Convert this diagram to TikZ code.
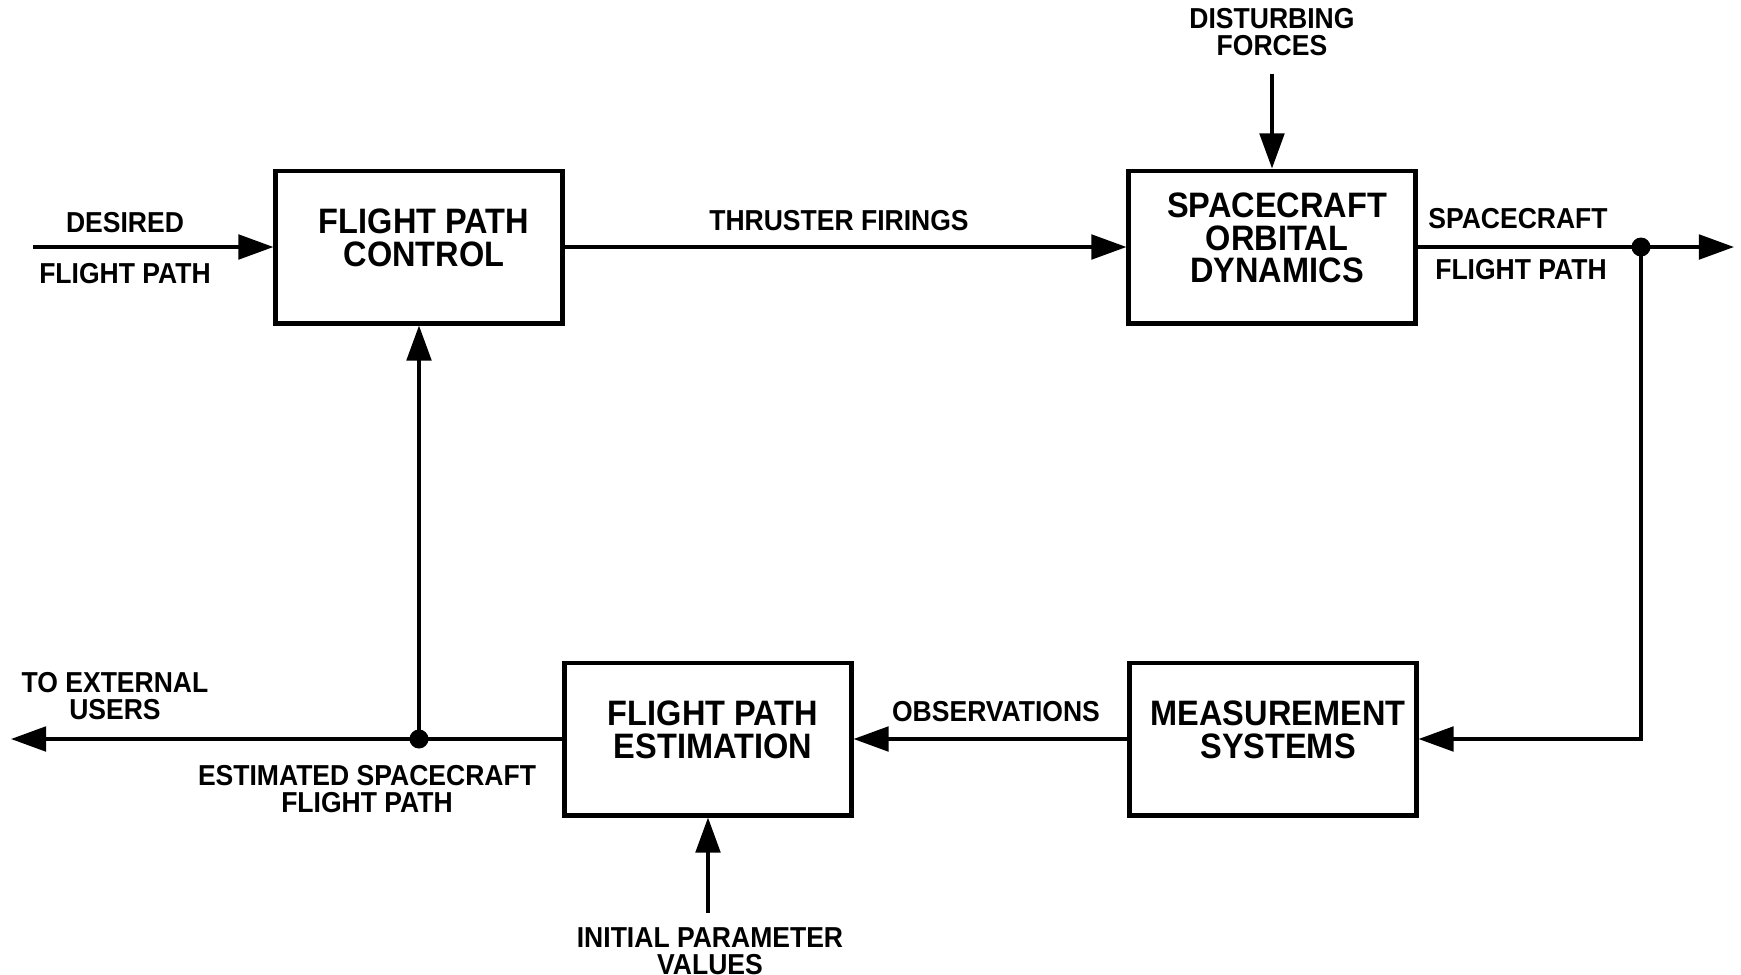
\documentclass[tikz,border=0pt]{standalone}
\usepackage{fontspec}
\newfontfamily\diagfont[FakeStretch=0.92]{Liberation Sans}
\usetikzlibrary{arrows.meta}
\tikzset{>={Triangle[length=10pt,width=7pt]}}
\tikzset{
  block/.style={draw, line width=1.4pt, minimum width=2.86cm, minimum height=1.52cm, inner sep=0pt},
  blocktext/.style={align=center, xshift=0.05cm, yshift=0.09cm, font=\diagfont\bfseries\fontsize{10.05}{9.2}\selectfont},
  sig/.style={align=center, inner sep=0pt, font=\diagfont\bfseries\fontsize{8.2}{7.6}\selectfont},
  line/.style={line width=1pt},
  dot/.style={circle, fill, inner sep=0pt, minimum size=0.19cm},
}

\begin{document}
\begin{tikzpicture}[x=0.01cm, y=-0.01cm]
    \useasboundingbox (0,0) rectangle (1741,975);

    % blocks
    \node[block, label={[blocktext]center:FLIGHT PATH\\CONTROL}] (fpc) at (419,247) {};
    \node[block, label={[blocktext]center:SPACECRAFT\\ORBITAL\\DYNAMICS}] (sod) at (1272,247) {};
    \node[block, label={[blocktext]center:FLIGHT PATH\\ESTIMATION}] (fpe) at (708,739) {};
    \node[block, label={[blocktext]center:MEASUREMENT\\SYSTEMS}] (ms) at (1273,739) {};

    % branch points and loose ends
    \coordinate (din) at (33,247);
    \coordinate (out) at (1734,247);
    \node[dot] (split) at (1641,247) {};
    \node[dot] (tap) at (419,739) {};
    \coordinate (ext) at (11,739);
    \coordinate (dist) at (1272,74);
    \coordinate (init) at (708,913);

    \draw[line,->] (din) -- (fpc);
    \draw[line,->] (fpc) -- (sod);
    \draw[line,->] (sod) -- (out);
    \draw[line,->] (split.center) |- (ms);
    \draw[line,->] (ms) -- (fpe);
    \draw[line,->] (fpe) -- (ext);
    \draw[line,->] (tap.center) -- (fpc);
    \draw[line,->] (dist) -- (sod);
    \draw[line,->] (init) -- (fpe);

    % signal names
    \node[sig] (desired) at (125,223) {DESIRED};
    \node[sig] (desiredfp) at (125,274) {FLIGHT PATH};
    \node[sig] (thrust) at (839,221) {THRUSTER FIRINGS};
    \node[sig] (disturb) at (1272,32) {DISTURBING\\FORCES};
    \node[sig] (scraft) at (1518,219) {SPACECRAFT};
    \node[sig] (scraftfp) at (1521,270) {FLIGHT PATH};
    \node[sig] (users) at (115,696) {TO EXTERNAL\\USERS};
    \node[sig] (obs) at (996,712) {OBSERVATIONS};
    \node[sig] (estfp) at (367,789) {ESTIMATED SPACECRAFT\\FLIGHT PATH};
    \node[sig] (initval) at (710,951) {INITIAL PARAMETER\\VALUES};

\end{tikzpicture}
\end{document}
